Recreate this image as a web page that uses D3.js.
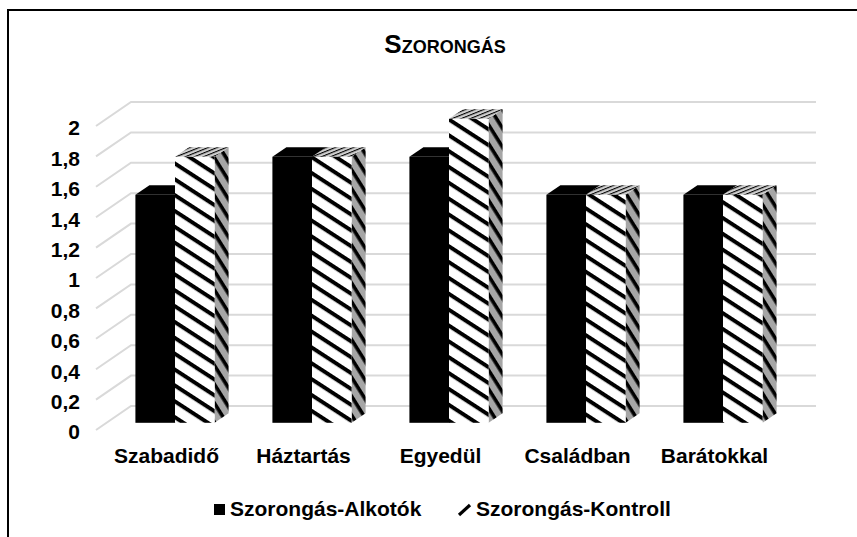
<!doctype html>
<html>
    <head>
        <meta charset="utf-8">
        <script src="https://cdn.jsdelivr.net/npm/d3@7"></script>
        <style type="text/css">
            body    {
                margin:0;
                background:#fff;
            }
            svg text    {
                font-family:"Liberation Sans",Arial,sans-serif;
                font-weight:bold;
                fill:#000;
            }
            .grid   {
                fill:none;
                stroke:#d9d9d9;
                stroke-width:2;
            }
        </style>
    </head>
    <body>
        <script>
            //chart values
            var categories = ["Szabadidő","Háztartás","Egyedül","Családban","Barátokkal"];
            var series = ["Szorongás-Alkotók","Szorongás-Kontroll"];
            var alkotok = [1.5,1.75,1.75,1.5,1.5];
            var kontroll = [1.75,1.75,2,1.5,1.5];
            var tickValues = [0,0.2,0.4,0.6,0.8,1,1.2,1.4,1.6,1.8,2];
            var title = "Szorongás";

            var width = 857, height = 537;

            //front plane of the 3d box and the depth vector
            var x0 = 96, plotW = 685;
            var depth = [35,-24];
            var barFront = 0.3, barBack = 0.7;

            var huLocale = d3.formatLocale({decimal:",",thousands:" ",grouping:[3],currency:["","Ft"]});
            var fmt = huLocale.format("~g");

            var svg = d3.select("body").append("svg")
                .attr("width",width)
                .attr("height",height);

            var defs = svg.append("defs");

            //striped fill of the control bars
            function stripes(id,bg,fg,h,line,angle)   {
                var p = defs.append("pattern")
                    .attr("id",id)
                    .attr("patternUnits","userSpaceOnUse")
                    .attr("width",10)
                    .attr("height",h)
                    .attr("patternTransform","rotate("+angle+")");
                p.append("rect").attr("width",10).attr("height",h).attr("fill",bg);
                p.append("rect").attr("width",10).attr("height",line).attr("fill",fg);
            }
            stripes("frontStripe","#fff","#000",13.3,4,33);
            stripes("sideStripe","#a6a6a6","#000",10,3.6,58);
            stripes("topStripe","#d0d0d0","#000",3.4,1.1,-22);

            var x = d3.scaleBand(categories,[x0,x0+plotW]);
            var xs = d3.scaleBand(series,[0,x.bandwidth()]).paddingOuter(0.73);
            var y = d3.scaleLinear([0,2],[430,126]);

            //outer chart border (cut by the picture edge)
            svg.append("path")
                .attr("d","M8,"+(height+10)+"V10H"+(width+10))
                .attr("fill","none")
                .attr("stroke","#000")
                .attr("stroke-width",2);

            //title with small caps
            svg.append("text")
                .attr("x",445)
                .attr("y",53)
                .attr("text-anchor","middle")
                .style("font-size","26px")
                .style("font-variant","small-caps")
                .text(title);

            //gridlines: slanted piece on the floor side, then along the back wall
            svg.append("g").selectAll("path")
                .data(tickValues)
                .enter()
                .append("path")
                .attr("class","grid")
                .attr("d",function(d) {
                    var yf = y(d);
                    return "M"+x0+","+yf+"L"+(x0+depth[0])+","+(yf+depth[1])+"H"+(x0+plotW+depth[0]);
                });

            //tick labels
            svg.append("g").selectAll("text")
                .data(tickValues)
                .enter()
                .append("text")
                .attr("x",80)
                .attr("y",function(d) { return y(d)+2; })
                .attr("dy","0.35em")
                .attr("text-anchor","end")
                .style("font-size","21px")
                .text(function(d) { return fmt(d); });

            //bars
            var bars = [];
            categories.forEach(function(c,i) {
                bars.push({cat:c,s:series[0],v:alkotok[i]});
                bars.push({cat:c,s:series[1],v:kontroll[i]});
            });

            var dx = (barBack-barFront)*depth[0], dy = (barBack-barFront)*depth[1];

            var barG = svg.append("g").selectAll("g")
                .data(bars)
                .enter()
                .append("g")
                .each(function(d)   {
                    var g = d3.select(this);
                    var left = x(d.cat)+xs(d.s)+barFront*depth[0];
                    var right = left+xs.bandwidth();
                    var bottom = y(0)+barFront*depth[1];
                    var top = y(d.v)+barFront*depth[1];
                    var kontrol = d.s===series[1];

                    //right side face
                    g.append("path")
                        .attr("d","M"+right+","+bottom+"L"+right+","+top+"L"+(right+dx)+","+(top+dy)+"L"+(right+dx)+","+(bottom+dy)+"Z")
                        .attr("fill",kontrol ? "url(#sideStripe)" : "#000");
                    //top face
                    g.append("path")
                        .attr("d","M"+left+","+top+"L"+(left+dx)+","+(top+dy)+"L"+(right+dx)+","+(top+dy)+"L"+right+","+top+"Z")
                        .attr("fill",kontrol ? "url(#topStripe)" : "#000");
                    //front face
                    g.append("rect")
                        .attr("x",left)
                        .attr("y",top)
                        .attr("width",right-left)
                        .attr("height",bottom-top)
                        .attr("fill",kontrol ? "url(#frontStripe)" : "#000");
                });

            //category labels
            svg.append("g").selectAll("text")
                .data(categories)
                .enter()
                .append("text")
                .attr("x",function(d) { return x(d)+x.bandwidth()/2+2; })
                .attr("y",463)
                .attr("text-anchor","middle")
                .style("font-size","21px")
                .text(function(d) { return d; });

            //legend
            var legend = svg.append("g");
            legend.append("rect")
                .attr("x",214).attr("y",504).attr("width",11).attr("height",11)
                .attr("fill","#000");
            legend.append("text")
                .attr("x",230).attr("y",516)
                .style("font-size","21px")
                .text(series[0]);
            legend.append("path")
                .attr("d","M459,515L470,505")
                .attr("stroke","#000")
                .attr("stroke-width",3.2);
            legend.append("text")
                .attr("x",476).attr("y",516)
                .style("font-size","21px")
                .text(series[1]);
        </script>
    </body>
</html>
